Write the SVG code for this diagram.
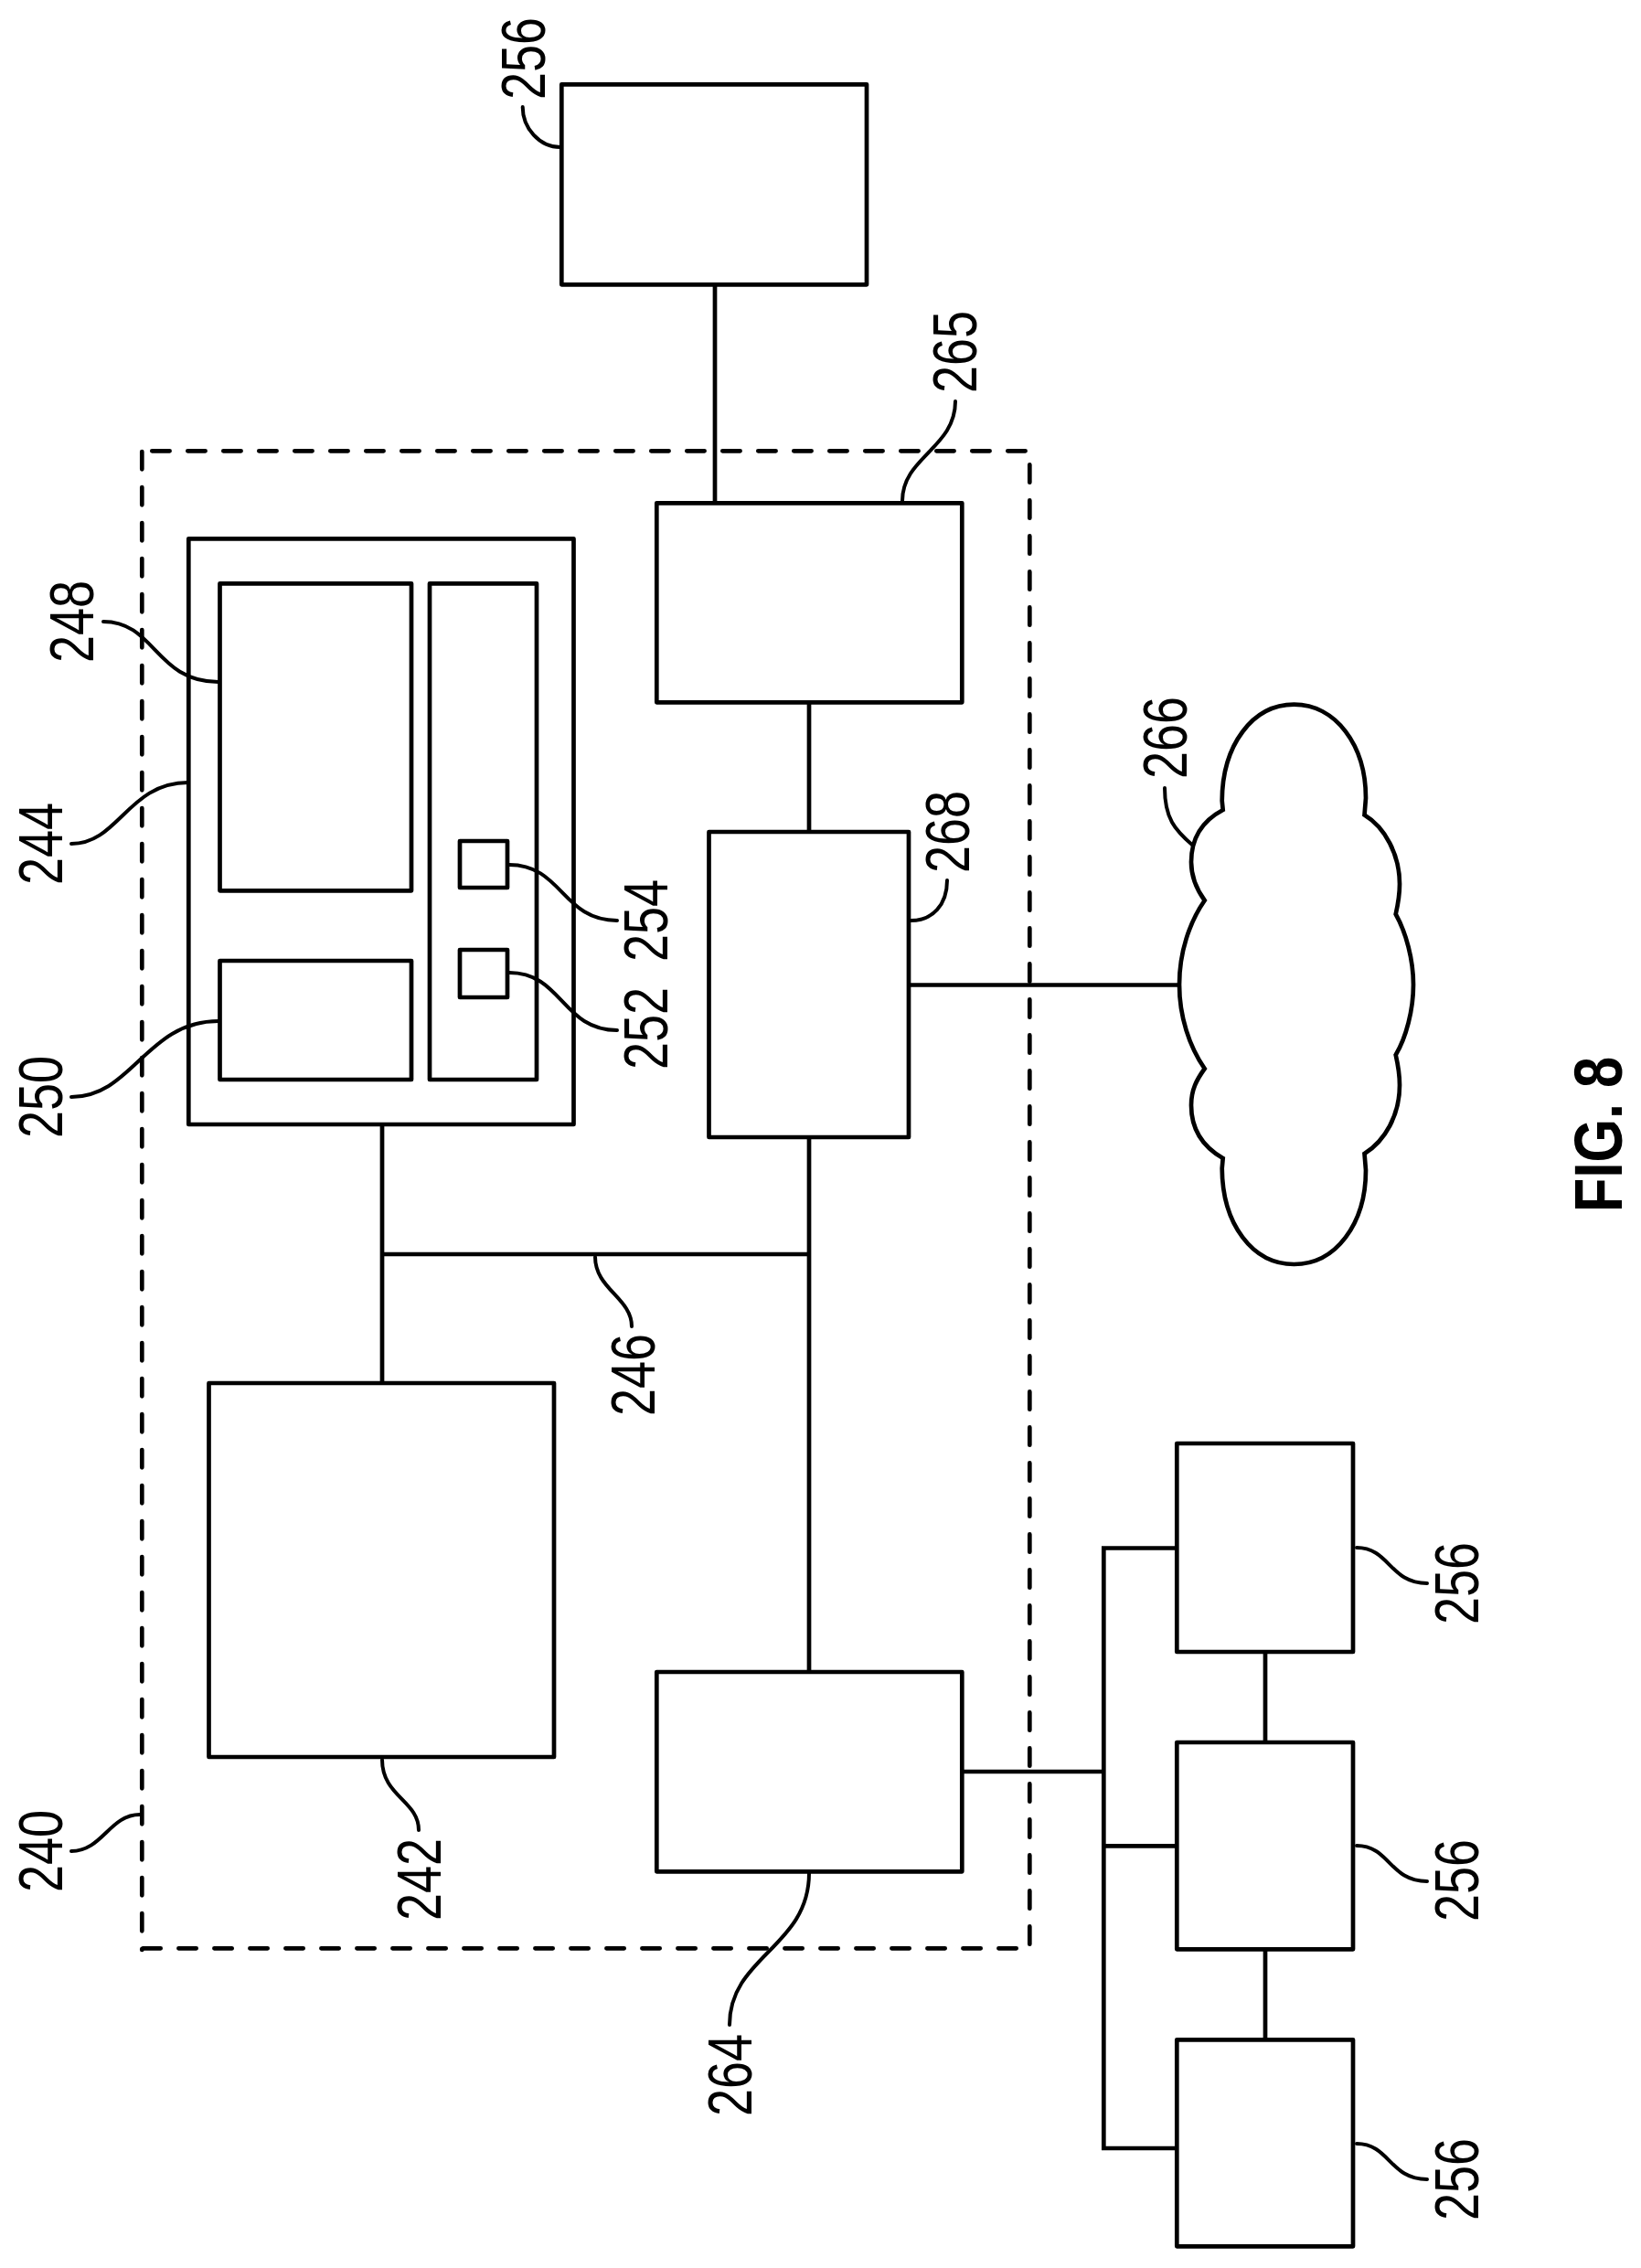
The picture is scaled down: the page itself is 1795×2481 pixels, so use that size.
<svg xmlns="http://www.w3.org/2000/svg" width="1795" height="2481" viewBox="0 0 1795 2481">
<style>
rect{fill:#fff;stroke:#000;stroke-width:4.700;stroke-linejoin:round}
path,line{fill:none;stroke:#000;stroke-width:4.700}
.l{stroke-width:4;stroke-linecap:round}
.d{stroke-dasharray:19.3 19.7;stroke-linecap:round}
text{font-family:"Liberation Sans",Arial,sans-serif;font-size:68px;fill:#000}
.f{font-size:75px;font-weight:bold}
</style>
<g id="n240"><path class="d" d="M155.3,494V2133"/><path class="d" d="M166.3,493.3H1124"/><path class="d" d="M1126.3,508.4V2128"/><path class="d" d="M156.4,2131.3H1114"/><text transform="translate(68,2070) rotate(-90)" textLength="90" lengthAdjust="spacingAndGlyphs">240</text><path class="l" d="M78,2025C112,2025 120,1985 153,1985"/></g>
<g id="connectors">
<line x1="782" y1="311" x2="782" y2="550"/>
<line x1="885" y1="768" x2="885" y2="910"/>
<line x1="885" y1="1244" x2="885" y2="1829"/>
<line x1="418" y1="1230" x2="418" y2="1513"/>
<line x1="418" y1="1372" x2="885" y2="1372"/>
<line x1="994" y1="1077.5" x2="1290" y2="1077.5"/>
<line x1="1052" y1="1938" x2="1207.300" y2="1938"/>
<path d="M1287.300,1693.500H1207.300V2350H1287.300"/>
<line x1="1207.300" y1="2019.300" x2="1287.300" y2="2019.300"/>
<line x1="1384" y1="1807" x2="1384" y2="1906"/>
<line x1="1384" y1="2132" x2="1384" y2="2231"/>
</g>
<g id="n256a"><rect x="614.300" y="92.300" width="333.700" height="219"/><text transform="translate(596,109) rotate(-90)" textLength="90" lengthAdjust="spacingAndGlyphs">256</text><path class="l" d="M571.700,117C571.700,140 590,161 613,161"/></g>
<g id="n265"><rect x="718.300" y="550.300" width="334" height="218"/><text transform="translate(1068,430) rotate(-90)" textLength="90" lengthAdjust="spacingAndGlyphs">265</text><path class="l" d="M1045,439C1045,490 987,500 987,548"/></g>
<g id="n244"><rect x="206.300" y="589.300" width="421.200" height="640.700"/><text transform="translate(68,968) rotate(-90)" textLength="90" lengthAdjust="spacingAndGlyphs">244</text><path class="l" d="M78,923C130,923 140,856 206,856"/></g>
<g id="n248"><rect x="240.500" y="638.300" width="209.500" height="336"/><text transform="translate(102,725) rotate(-90)" textLength="90" lengthAdjust="spacingAndGlyphs">248</text><path class="l" d="M113,680C170,680 170,746 239,746"/></g>
<g id="n250"><rect x="240.500" y="1051" width="209.500" height="130"/><text transform="translate(68,1245) rotate(-90)" textLength="90" lengthAdjust="spacingAndGlyphs">250</text><path class="l" d="M78,1200C145,1200 160,1117 239,1117"/></g>
<g id="panel"><rect x="470" y="638.300" width="117" height="542.700"/></g>
<g id="n254"><rect x="503" y="920" width="52" height="51"/><text transform="translate(730,1052) rotate(-90)" textLength="90" lengthAdjust="spacingAndGlyphs">254</text><path class="l" d="M557,946C615,946 615,1007 675,1007"/></g>
<g id="n252"><rect x="503" y="1039" width="52" height="52"/><text transform="translate(730,1170) rotate(-90)" textLength="90" lengthAdjust="spacingAndGlyphs">252</text><path class="l" d="M557,1064C615,1064 615,1127 675,1127"/></g>
<g id="n268"><rect x="775.500" y="910" width="218.500" height="334"/><text transform="translate(1060,955) rotate(-90)" textLength="90" lengthAdjust="spacingAndGlyphs">268</text><path class="l" d="M996,1007C1020,1007 1036,990 1036,963"/></g>
<g id="n266"><path style="fill:#fff" d="M1337.700,886L1336.700,876C1337,815 1370,770.700 1415.500,770.700C1461,770.700 1494,815 1494,873L1492.500,891.500C1515,905 1531,935 1531,967C1531,980 1529,990 1526.700,1000C1538,1020 1546,1050 1546,1077C1546,1105 1538,1135 1526.700,1154C1529,1164 1531,1175 1531,1187C1531,1220 1515,1248 1492.500,1262L1494,1280C1494,1339 1461,1383 1415.500,1383C1370,1383 1337,1339 1336.700,1278L1337.700,1267C1315,1254 1303,1235 1303,1209C1303,1192 1309,1181 1317.700,1169C1301,1145 1290,1112 1290,1077C1290,1042 1301,1009 1317.700,985C1309,973 1303,960 1303,943C1303,917 1315,898 1337.700,886Z"/><text transform="translate(1298,852) rotate(-90)" textLength="90" lengthAdjust="spacingAndGlyphs">266</text><path class="l" d="M1274,862C1274,895 1285,908 1305,925"/></g>
<g id="n242"><rect x="228.500" y="1513" width="377.500" height="409"/><text transform="translate(482,2101) rotate(-90)" textLength="90" lengthAdjust="spacingAndGlyphs">242</text><path class="l" d="M418,1925C418,1965 458,1970 458,2002"/></g>
<g id="n246"><path class="l" d="M651,1375C651,1410 691,1420 691,1451"/><text transform="translate(716,1549) rotate(-90)" textLength="90" lengthAdjust="spacingAndGlyphs">246</text></g>
<g id="n264"><rect x="718.300" y="1829" width="334" height="218.300"/><text transform="translate(822,2315) rotate(-90)" textLength="90" lengthAdjust="spacingAndGlyphs">264</text><path class="l" d="M885,2049C885,2130 798,2140 798,2215"/></g>
<g id="n256b"><rect x="1287.300" y="1579" width="192.700" height="228"/><text transform="translate(1617,1777) rotate(-90)" textLength="90" lengthAdjust="spacingAndGlyphs">256</text><path class="l" d="M1484,1693C1520,1693 1520,1732 1561,1732"/></g>
<g id="n256c"><rect x="1287.300" y="1906" width="192.700" height="226.300"/><text transform="translate(1617,2102) rotate(-90)" textLength="90" lengthAdjust="spacingAndGlyphs">256</text><path class="l" d="M1484,2019C1520,2019 1520,2058 1561,2058"/></g>
<g id="n256d"><rect x="1287.300" y="2231.300" width="192.700" height="226"/><text transform="translate(1617,2429) rotate(-90)" textLength="90" lengthAdjust="spacingAndGlyphs">256</text><path class="l" d="M1484,2345C1520,2345 1520,2384 1561,2384"/></g>
<text class="f" transform="translate(1774,1326) rotate(-90)" textLength="170" lengthAdjust="spacingAndGlyphs">FIG. 8</text>
</svg>
